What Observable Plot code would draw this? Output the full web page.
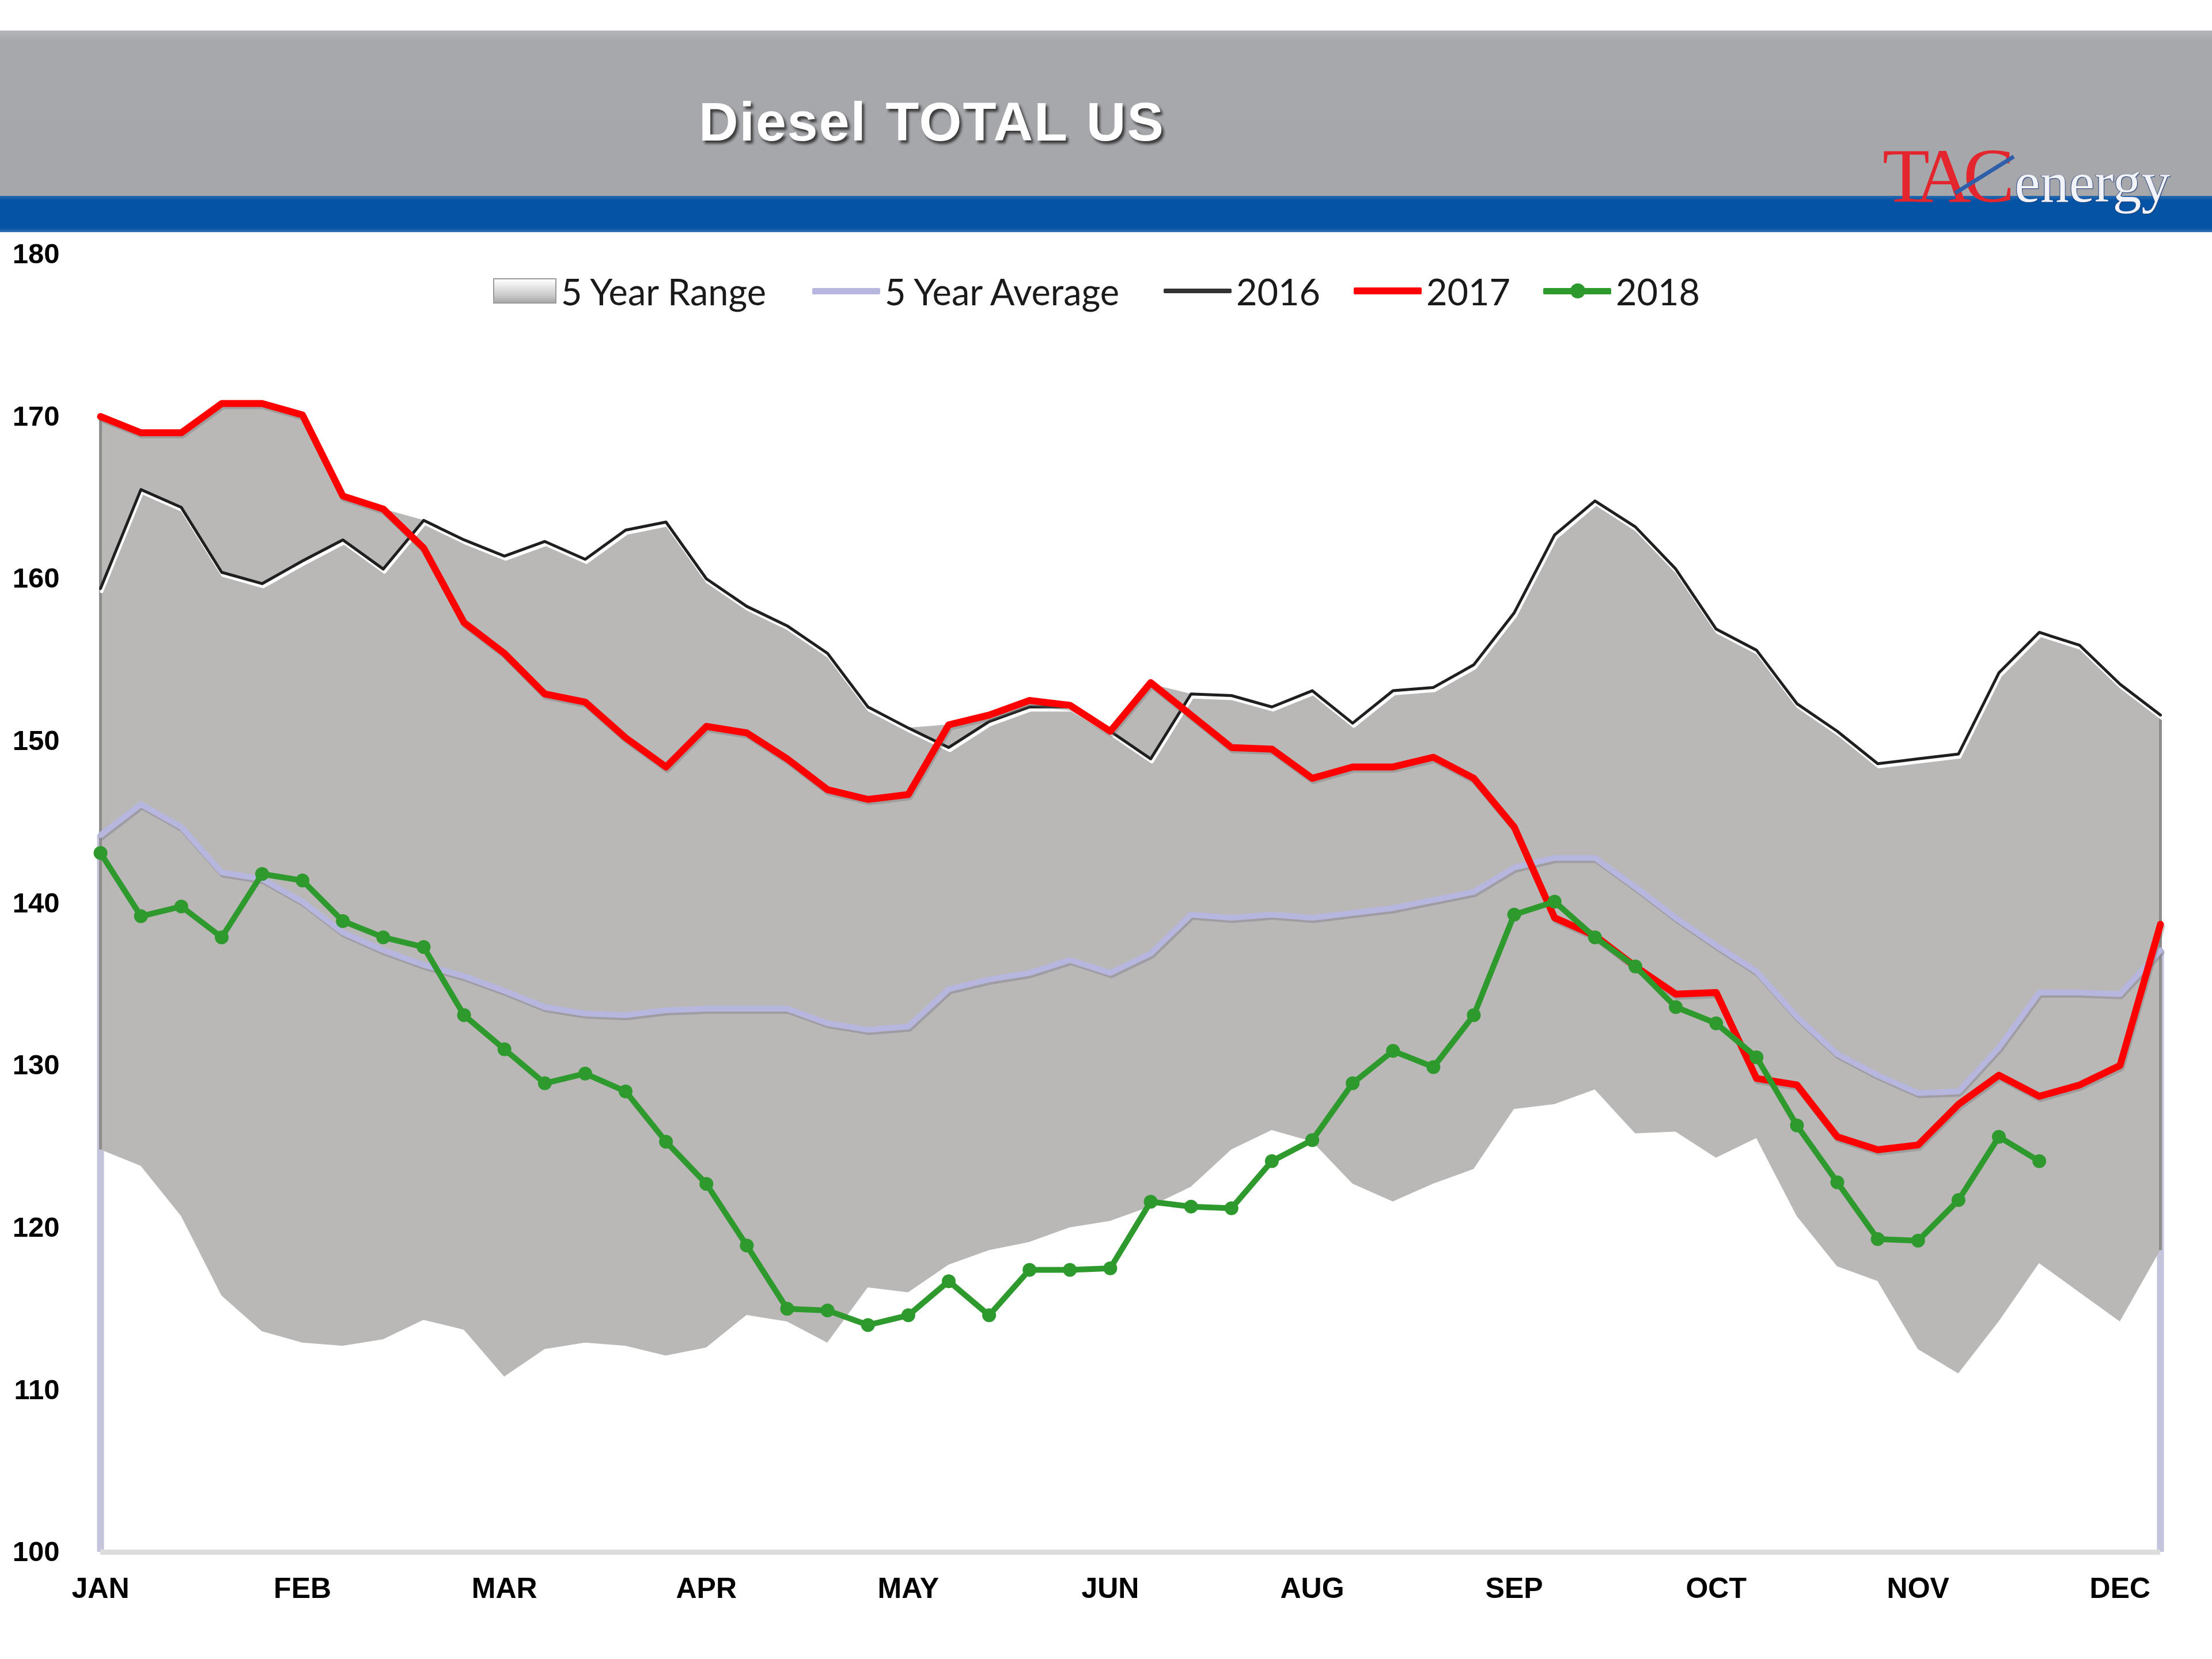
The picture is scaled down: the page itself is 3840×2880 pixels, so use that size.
<!DOCTYPE html>
<html>
<head>
<meta charset="utf-8">
<script src="https://cdn.jsdelivr.net/npm/d3@7"></script>
<script src="https://cdn.jsdelivr.net/npm/@observablehq/plot@0.6"></script>
<style>
  html, body { margin: 0; padding: 0; background: #ffffff; }
  body { width: 3840px; height: 2880px; position: relative; overflow: hidden; font-family: "Liberation Sans", Arial, sans-serif; }
  #band { position: absolute; left: 0; top: 53px; width: 3840px; height: 287px;
          background: linear-gradient(#b4b5b8 0px, #a7a8ac 18px, #a6a7ab 100%); }
  #blue { position: absolute; left: 0; top: 340px; width: 3840px; height: 63px;
          background: linear-gradient(#2a6ab0 0px, #0453a4 8px, #0453a4 56px, #3a72b4 100%); }
  #title { position: absolute; left: 1213px; top: 157px; font-family: "Liberation Sans", Arial, sans-serif;
           font-weight: bold; font-size: 95px; color: #ffffff; letter-spacing: 2px; word-spacing: 4px;
           text-shadow: 4px 5px 4px rgba(40,40,40,0.85); white-space: nowrap; }
  #logo { position: absolute; left: 3268px; top: 228px; white-space: nowrap; }
  #logo .tac { font-family: "Liberation Serif", "DejaVu Serif", serif; font-size: 134px; color: #e3262d;
               letter-spacing: -14px; }
  #logo .energy { font-family: "Liberation Serif", "DejaVu Serif", serif; font-size: 100px; color: #f1f3f8;
                  text-shadow: 1px 1px 1px #1e3f7a, -1px 0 1px #1e3f7a; margin-left: 14px; }
  #slash { position: absolute; left: 3385px; top: 300px; width: 120px; height: 7px; background: #2f5fa8;
           transform: rotate(-32deg); }
  #chart { position: absolute; left: 0; top: 403px; }
  #legend { position: absolute; left: 0; top: 465px; width: 3840px; height: 80px;
            font-family: Lato, "Open Sans", sans-serif; font-size: 63px; color: #1a1a1a; }
  #legend .it { position: absolute; top: 0; height: 80px; display: flex; align-items: center; white-space: nowrap; }
  #legend .sw { display: inline-block; }
</style>
</head>
<body>
<div id="band"></div>
<div id="blue"></div>
<div id="title">Diesel TOTAL US</div>
<div id="logo"><span class="tac">TAC</span><span class="energy">energy</span></div>
<div id="slash"></div>
<div id="chart"></div>
<div id="legend"></div>
<script>
// ---------------- data (weekly) ----------------
const monthLabels = ["JAN", "FEB", "MAR", "APR", "MAY", "JUN", "AUG", "SEP", "OCT", "NOV", "DEC"];
const monthWeeks  = [0, 5, 10, 15, 20, 25, 30, 35, 40, 45, 50];
const yTicks = [100, 110, 120, 130, 140, 150, 160, 170, 180];

const rangeMin = [124.8,123.8,120.7,115.8,113.6,112.9,112.7,113.1,114.3,113.7,
                  110.8,112.5,112.9,112.7,112.1,112.6,114.6,114.2,112.9,116.3,
                  116.0,117.7,118.6,119.1,120.0,120.4,121.3,122.5,124.8,126.0,
                  125.3,122.7,121.6,122.7,123.6,127.3,127.6,128.5,125.8,125.9,
                  124.3,125.5,120.7,117.6,116.7,112.5,111.0,114.2,117.8,116.0,
                  114.2,118.6];
const rangeMax = [170.0,169.0,169.0,170.8,170.8,170.1,165.1,164.3,163.6,162.4,
                  161.4,162.3,161.2,163.0,163.5,160.0,158.3,157.1,155.4,152.1,
                  150.8,151.0,151.6,152.5,152.2,150.6,153.5,152.9,152.8,152.1,
                  153.1,151.1,153.1,153.3,154.7,157.9,162.7,164.8,163.2,160.6,
                  156.9,155.6,152.3,150.6,148.6,148.9,149.2,154.2,156.7,155.9,
                  153.5,151.6];
const avg5 = [144.2,146.1,144.7,141.9,141.5,140.1,138.2,137.1,136.2,135.5,
              134.6,133.6,133.2,133.1,133.4,133.5,133.5,133.5,132.6,132.2,
              132.4,134.7,135.3,135.7,136.5,135.7,136.9,139.3,139.1,139.3,
              139.1,139.4,139.7,140.2,140.7,142.2,142.8,142.8,141.0,139.1,
              137.4,135.8,133.0,130.7,129.4,128.3,128.4,131.1,134.5,134.5,
              134.4,137.1];
const y2016 = [159.4,165.5,164.4,160.4,159.7,161.1,162.4,160.6,163.6,162.4,
               161.4,162.3,161.2,163.0,163.5,160.0,158.3,157.1,155.4,152.1,
               150.8,149.6,151.2,152.1,152.1,150.6,148.9,152.9,152.8,152.1,
               153.1,151.1,153.1,153.3,154.7,157.9,162.7,164.8,163.2,160.6,
               156.9,155.6,152.3,150.6,148.6,148.9,149.2,154.2,156.7,155.9,
               153.5,151.6];
const y2017 = [170.0,169.0,169.0,170.8,170.8,170.1,165.1,164.3,161.9,157.3,
               155.4,152.9,152.4,150.2,148.4,150.9,150.5,148.9,147.0,146.4,
               146.7,151.0,151.6,152.5,152.2,150.6,153.6,151.6,149.6,149.5,
               147.7,148.4,148.4,149.0,147.7,144.7,139.1,138.0,136.1,134.4,
               134.5,129.2,128.8,125.6,124.8,125.1,127.6,129.4,128.1,128.8,
               130.0,138.7];
const y2018 = [143.1,139.2,139.8,137.9,141.8,141.4,138.9,137.9,137.3,133.1,
               131.0,128.9,129.5,128.4,125.3,122.7,118.9,115.0,114.9,114.0,
               114.6,116.7,114.6,117.4,117.4,117.5,121.6,121.3,121.2,124.1,
               125.4,128.9,130.9,129.9,133.1,139.3,140.1,137.9,136.1,133.6,
               132.6,130.5,126.3,122.8,119.3,119.2,121.7,125.6,124.1];

// ---------------- colours ----------------
const C = {
  range: "#bab7b7", rangeEdge: "#8f8c8c",
  avg: "#b6b6de", y2016: "#1f1f1f", y2017: "#ff0000", y2018: "#2e9a2e"
};

// table built from the arrays
const table = rangeMin.map((v, i) => ({
  week: i, min: v, max: rangeMax[i], avg: avg5[i], y2016: y2016[i], y2017: y2017[i]
}));
const greenRows = y2018.map((v, i) => ({week: i, value: v}));
const ends = [table[0], table[table.length - 1]];

const chart = Plot.plot({
  width: 3840,
  height: 2477,
  marginTop: 38,
  marginBottom: 186,
  marginLeft: 174,
  marginRight: 90,
  style: {fontFamily: "'Liberation Sans', Arial, sans-serif", background: "transparent", color: "#000"},
  x: {domain: [0, table.length - 1]},
  y: {domain: [100, 180]},
  marks: [
    // lavender edge strips (5-year average area artefact in the original)
    Plot.ruleX(ends, {x: "week", y1: 100, y2: "avg", stroke: "#c4c4dc", strokeWidth: 12}),
    // 5 year range band
    Plot.areaY(table, {x: "week", y1: "min", y2: "max", fill: C.range}),
    Plot.ruleX(ends, {x: "week", y1: "min", y2: "max", stroke: C.rangeEdge, strokeWidth: 5}),
    // bottom axis line
    Plot.ruleY([100], {stroke: "#dcdcdc", strokeWidth: 9}),
    // 5 year average
    Plot.lineY(table, {x: "week", y: "avg", stroke: "#7f7f8c", strokeOpacity: 0.45, strokeWidth: 10, dy: 4, dx: 2}),
    Plot.lineY(table, {x: "week", y: "avg", stroke: C.avg, strokeWidth: 10}),
    // 2016
    Plot.lineY(table, {x: "week", y: "y2016", stroke: "#ffffff", strokeWidth: 6, dy: 5, dx: 2}),
    Plot.lineY(table, {x: "week", y: "y2016", stroke: C.y2016, strokeWidth: 5}),
    // 2017
    Plot.lineY(table, {x: "week", y: "y2017", stroke: "#6e6e6e", strokeOpacity: 0.35, strokeWidth: 12, dy: 4, dx: 2}),
    Plot.lineY(table, {x: "week", y: "y2017", stroke: C.y2017, strokeWidth: 12}),
    // 2018
    Plot.lineY(greenRows, {x: "week", y: "value", stroke: C.y2018, strokeWidth: 10}),
    Plot.dot(greenRows, {x: "week", y: "value", r: 12, fill: C.y2018}),
    // axes
    Plot.axisY({ticks: yTicks, tickSize: 0, tickPadding: 71, fontSize: 49, fontWeight: "bold", label: null}),
    Plot.axisX({ticks: monthWeeks, tickFormat: d => monthLabels[monthWeeks.indexOf(d)],
                tickSize: 0, tickPadding: 44, fontSize: 50, fontWeight: "bold", label: null})
  ]
});
document.getElementById("chart").appendChild(chart);

// ---------------- legend ----------------
const legendItems = [
  {label: "5 Year Range", kind: "range", left: 856},
  {label: "5 Year Average", kind: "line", color: C.avg, w: 11, left: 1410},
  {label: "2016", kind: "line", color: "#333", w: 8, left: 2020},
  {label: "2017", kind: "line", color: C.y2017, w: 12, left: 2350},
  {label: "2018", kind: "dot", color: C.y2018, w: 11, left: 2679}
];
const legend = document.getElementById("legend");
for (const it of legendItems) {
  const el = document.createElement("div");
  el.className = "it";
  el.style.left = it.left + "px";
  const sw = document.createElement("span");
  sw.className = "sw";
  if (it.kind === "range") {
    sw.style.cssText = "width:110px;height:44px;box-sizing:border-box;border:2px solid #9a9a9a;" +
      "background:linear-gradient(#ffffff,#c9c9c9 70%,#a9a9a9);margin-right:8px;";
  } else {
    sw.style.cssText = `width:118px;height:${it.w}px;background:${it.color};position:relative;margin-right:8px;border-radius:2px;`;
    if (it.kind === "dot") {
      const d = document.createElement("span");
      d.style.cssText = `position:absolute;left:47px;top:${it.w / 2 - 13}px;width:26px;height:26px;border-radius:50%;background:${it.color};`;
      sw.appendChild(d);
    }
  }
  el.appendChild(sw);
  const t = document.createElement("span");
  t.textContent = it.label;
  el.appendChild(t);
  legend.appendChild(el);
}
</script>
</body>
</html>
